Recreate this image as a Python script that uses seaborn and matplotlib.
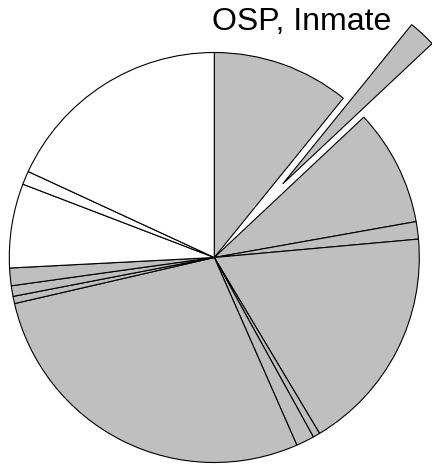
import matplotlib
matplotlib.use("Agg")
import matplotlib.pyplot as plt
import seaborn as sns

# slice shares (degrees of the circle), clockwise from 12 o'clock
values = [39.0, 7.8, 33.1, 4.95, 64.25, 2.0, 5.15, 100.75, 2.05, 3.0, 5.0, 23.9, 3.84, 65.2]
groups = ["gray"] * 11 + ["white"] * 3
labels = [""] * len(values)
labels[1] = "OSP, Inmate"
explode = [0.0] * len(values)
explode[1] = 0.49

sns.set_theme(style="white")
plt.rcParams["font.family"] = ["Liberation Sans", "DejaVu Sans"]

color_map = {"gray": "#bfbfbf", "white": "#ffffff"}
colors = [color_map[g] for g in groups]

W, H = 432, 466
cx, cy, R = 214.3, 257.5, 205.0
fig = plt.figure(figsize=(W / 100, H / 100), dpi=100)
ax = fig.add_axes([0, 0, 1, 1])
ax.pie(values, colors=colors, explode=explode, startangle=90, counterclock=False,
       radius=1.0, wedgeprops=dict(edgecolor="black", linewidth=0.8))
ax.set_xlim(-cx / R, (W - cx) / R)
ax.set_ylim(-(H - cy) / R, cy / R)
ax.set_aspect("equal")
ax.axis("off")

fig.text(302 / W, 1 - 30 / H, labels[1], ha="center", va="baseline", fontsize=23, color="black")

fig.savefig("out.png", dpi=100)
